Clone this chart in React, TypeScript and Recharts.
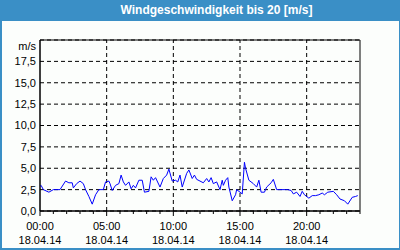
import {
  LineChart,
  Line,
  XAxis,
  YAxis,
  CartesianGrid,
  ReferenceLine,
  ReferenceArea,
} from "recharts";

// minutes since 00:00 on 18.04.14
const windMinutes = [
  0, 5, 15, 40, 60, 90, 115, 130, 145, 150, 165, 180, 195, 205, 220, 235, 250,
  265, 285, 295, 310, 315, 325, 340, 355, 365, 375, 385, 400, 410, 420, 430,
  445, 460, 470, 490, 500, 510, 520, 540, 555, 570, 580, 595, 610, 620, 630,
  640, 660, 670, 685, 695, 705, 720, 735, 750, 760, 770, 780, 795, 810, 820,
  825, 835, 845, 850, 865, 880, 885, 900, 910, 920, 925, 940, 960, 975, 985,
  995, 1010, 1020, 1040, 1050, 1065, 1080, 1105, 1115, 1130, 1140, 1155, 1170,
  1180, 1190, 1210, 1225, 1240, 1255, 1270, 1280, 1295, 1320, 1335, 1350, 1370,
  1385, 1405, 1420, 1430,
];

// m/s
const windSpeed = [
  2.9, 3.0, 2.5, 2.2, 2.5, 2.5, 3.5, 3.3, 3.3, 2.7, 3.2, 3.5, 3.2, 2.5, 1.7,
  0.8, 1.9, 2.5, 2.5, 3.4, 3.5, 3.2, 2.4, 3.0, 3.2, 4.2, 3.4, 3.0, 3.4, 2.6,
  3.0, 2.7, 3.6, 3.6, 2.2, 2.3, 4.0, 3.6, 3.9, 2.8, 3.8, 4.2, 4.9, 3.5, 3.6,
  3.4, 4.2, 2.8, 4.4, 4.8, 3.8, 4.2, 3.7, 3.5, 3.3, 3.8, 3.4, 3.9, 3.2, 3.4,
  2.5, 3.6, 3.0, 3.6, 3.9, 2.8, 1.2, 1.9, 2.5, 2.2, 2.0, 5.7, 5.0, 3.6, 3.2,
  2.8, 3.6, 2.2, 2.2, 2.8, 3.3, 3.7, 2.5, 2.5, 2.5, 2.5, 2.4, 2.0, 2.2, 1.7,
  2.3, 1.9, 1.5, 1.8, 1.8, 1.9, 2.1, 1.9, 2.2, 2.3, 1.9, 1.4, 1.2, 0.8, 1.6,
  1.7, 1.8,
];

const hourTicks = [
  0, 60, 120, 180, 240, 300, 360, 420, 480, 540, 600, 660, 720, 780, 840, 900,
  960, 1020, 1080, 1140, 1200, 1260, 1320, 1380, 1440,
];
const labelTicks = [0, 300, 600, 900, 1200];
const timeLabels = ["00:00", "05:00", "10:00", "15:00", "20:00"];
const dateLabel = "18.04.14";
const yTicks = [0, 2.5, 5, 7.5, 10, 12.5, 15, 17.5, 20];

const data = windMinutes.map((t, i) => ({ t, v: windSpeed[i] }));

const BLUE = "#3a8fc6";
const FONT = "'Liberation Sans', Arial, sans-serif";

const XTick = (props: any) => {
  const { x, y, payload } = props;
  const idx = labelTicks.indexOf(payload.value);
  const major = idx >= 0;
  return (
    <g>
      <line x1={x} x2={x} y1={y} y2={y + (major ? 5 : 3)} stroke="#000" />
      {major && (
        <text
          x={x}
          textAnchor="middle"
          fontSize={11}
          fontFamily={FONT}
          fill="#000"
        >
          <tspan x={x} y={y + 18.5}>
            {timeLabels[idx]}
          </tspan>
          <tspan x={x} y={y + 33}>
            {dateLabel}
          </tspan>
        </text>
      )}
    </g>
  );
};

const YTick = (props: any) => {
  const { x, y, payload } = props;
  const v = payload.value;
  const label = v === 20 ? "m/s" : v.toFixed(1).replace(".", ",");
  return (
    <text
      x={x}
      y={y + (v === 20 ? 6 : 0)}
      dy="0.36em"
      textAnchor="end"
      fontSize={11}
      fontFamily={FONT}
      fill="#000"
    >
      {label}
    </text>
  );
};

export default function App() {
  return (
    <div
      style={{
        position: "absolute",
        left: 0,
        top: 0,
        width: 400,
        height: 250,
        background: "#fcfefc",
        boxSizing: "border-box",
        border: `1px solid ${BLUE}`,
        borderLeftWidth: 2,
        borderBottomWidth: 2,
      }}
    >
      <div
        style={{
          position: "absolute",
          left: 0,
          top: -1,
          right: 0,
          height: 21,
          background: BLUE,
          color: "#fff",
          fontFamily: FONT,
          fontWeight: "bold",
          fontSize: 12,
          lineHeight: "21px",
          textAlign: "center",
          paddingLeft: 32,
          boxSizing: "border-box",
        }}
      >
        Windgeschwindigkeit bis 20 [m/s]
      </div>
      <div style={{ position: "absolute", left: -2, top: -1 }}>
        <LineChart
          width={400}
          height={250}
          data={data}
          margin={{ top: 40, right: 40, left: 0, bottom: 0 }}
        >
          <CartesianGrid
            vertical={false}
            stroke="#000"
            strokeDasharray="4 3"
          />
          {labelTicks.slice(1).map((t) => (
            <ReferenceLine
              key={t}
              x={t}
              stroke="#000"
              strokeDasharray="4 3"
            />
          ))}
          <XAxis
            dataKey="t"
            type="number"
            domain={[0, 1440]}
            ticks={hourTicks}
            interval={0}
            height={39}
            tickSize={0}
            tickMargin={0}
            tickLine={false}
            axisLine={{ stroke: "#000" }}
            tick={<XTick />}
          />
          <YAxis
            type="number"
            domain={[0, 20]}
            ticks={yTicks}
            interval={0}
            width={40}
            tickSize={0}
            tickMargin={4}
            tickLine={false}
            axisLine={{ stroke: "#000" }}
            tick={<YTick />}
          />
          <ReferenceArea
            x1={0}
            x2={1440}
            y1={0}
            y2={20}
            fill="none"
            fillOpacity={0}
            stroke="#000"
            strokeOpacity={1}
          />
          <Line
            type="linear"
            dataKey="v"
            stroke="#0000ff"
            strokeWidth={1}
            dot={false}
            isAnimationActive={false}
          />
        </LineChart>
      </div>
    </div>
  );
}
